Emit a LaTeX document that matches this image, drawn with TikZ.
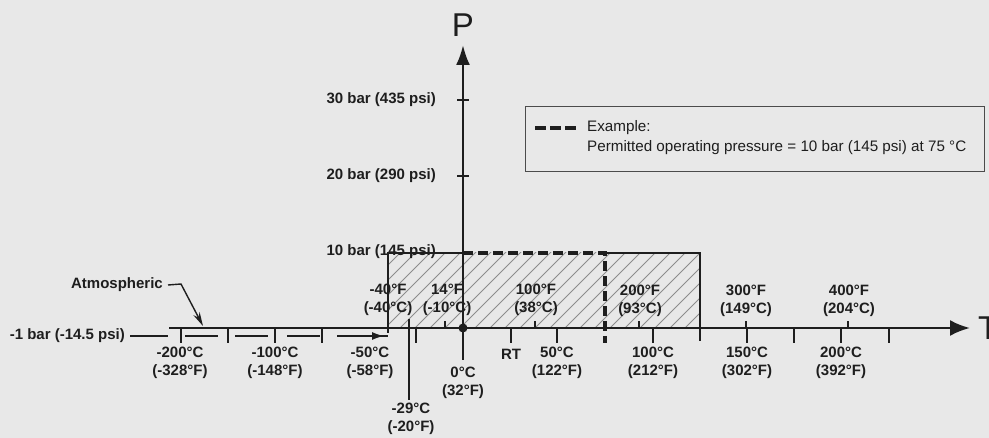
\documentclass[tikz,border=0pt]{standalone}
\usepackage{fontspec}
\setmainfont{Liberation Sans}
\usetikzlibrary{arrows.meta}
\definecolor{bg}{HTML}{E8E8E8}
\definecolor{ink}{HTML}{1E1E1E}
\definecolor{hatchc}{HTML}{8C8C8C}
\begin{document}
\begin{tikzpicture}[x=1pt,y=-1pt,
  lbl/.style={font=\fontsize{15}{18}\selectfont\bfseries, inner sep=0pt, align=center, text=ink},
  leg/.style={font=\fontsize{15.2}{17}\selectfont, inner sep=0pt, anchor=west, text=ink},
  axisline/.style={line width=2.6pt, draw=ink},
  tickmark/.style={line width=2pt, draw=ink},
  thinline/.style={line width=1.4pt, draw=ink},
  example/.style={line width=4pt, draw=ink, dash pattern=on 10pt off 5pt},
  hatchline/.style={line width=0.8pt, draw=hatchc}]
\fill[bg] (0,0) rectangle (989,438);
\useasboundingbox (0,0) rectangle (989,438);

% hatched range
\begin{scope}
\clip (388,253) rectangle (700,328);
\foreach \i in {0,15,...,420} \draw[hatchline] ({388+\i-90},340) -- ++(90,-90);
\end{scope}
\draw[thinline] (388,333) -- (388,253) -- (463,253);
\draw[thinline] (605,253) -- (700,253) -- (700,341);
\draw[example] (463,253) -- (605,253) -- (605,343);

% axes
\coordinate (Tstart) at (169,328);
\coordinate (Tend) at (970,328);
\coordinate (Pstart) at (463,360);
\coordinate (Pend) at (463,45);
\draw[axisline, -{Latex[length=20pt,width=16pt]}] (Tstart) -- (Tend);
\draw[axisline, -{Latex[length=20pt,width=14pt]}] (Pstart) -- (Pend);
\node[font=\fontsize{33}{33}\selectfont, text=ink, inner sep=0pt] (P) at (463,25) {P};
\node[font=\fontsize{33}{33}\selectfont, text=ink, inner sep=0pt, anchor=west] (T) at (978,328) {T};

% ticks
\foreach \x in {181,228,275,322,416,511,557,653,747,794,841,889}
  \draw[tickmark] (\x,328) -- (\x,343);
\foreach \x in {445,535,639,746,848}
  \draw[tickmark] (\x,328) -- (\x,321);
\foreach \y in {100,176}
  \draw[tickmark] (457,\y) -- (469,\y);
\draw[tickmark] (409,319) -- (409,400);
\fill[ink] (463,328) circle (4.5pt);

% pressure labels
\node[lbl, anchor=east] (p30) at (436,100) {30 bar (435 psi)};
\node[lbl, anchor=east] (p20) at (436,176) {20 bar (290 psi)};
\node[lbl, anchor=east] (p10) at (436,252) {10 bar (145 psi)};

% -1 bar line
\node[lbl, anchor=east] (pm1) at (125,336) {-1 bar (-14.5 psi)};
\coordinate (v0) at (130,336);
\coordinate (v1) at (168,336);
\draw[thinline] (v0) -- (v1);
\draw[thinline] (185,336) -- (218,336);
\draw[thinline] (235,336) -- (268,336);
\draw[thinline] (287,336) -- (320,336);
\draw[thinline, -{Latex[length=12pt,width=8pt]}] (337,336) -- (384,336);
\draw[thinline] (380,336) -- (388,336);

% atmospheric
\node[lbl, anchor=east] (atm) at (163,285) {Atmospheric};
\coordinate (a1) at (181,284);
\coordinate (a2) at (203,326);
\draw[thinline, -{Stealth[length=14pt,width=7pt]}] ([xshift=5pt]atm.east) -- (a1) -- (a2);

% temperature labels below axis
\node[lbl] (c200m) at (180,363) {-200°C\\(-328°F)};
\node[lbl] (c100m) at (275,363) {-100°C\\(-148°F)};
\node[lbl] (c50m) at (370,363) {-50°C\\(-58°F)};
\node[lbl] (c0) at (463,383) {0°C\\(32°F)};
\node[lbl] (rt) at (511,354) {RT};
\node[lbl] (c50) at (557,363) {50°C\\(122°F)};
\node[lbl] (c29m) at (411,419) {-29°C\\(-20°F)};
\node[lbl] (c100) at (653,363) {100°C\\(212°F)};
\node[lbl] (c150) at (747,363) {150°C\\(302°F)};
\node[lbl] (c200) at (841,363) {200°C\\(392°F)};

% fahrenheit labels above axis
\node[lbl] (f40m) at (388,300) {-40°F\\(-40°C)};
\node[lbl] (f14) at (447,300) {14°F\\(-10°C)};
\node[lbl] (f100) at (536,300) {100°F\\(38°C)};
\node[lbl] (f200) at (640,301) {200°F\\(93°C)};
\node[lbl] (f300) at (746,301) {300°F\\(149°C)};
\node[lbl] (f400) at (849,301) {400°F\\(204°C)};

% legend
\draw[line width=1pt, draw=ink!80] (525,107) rectangle (984,172);
\draw[line width=4pt, draw=ink, dash pattern=on 11pt off 4pt] (535,128) -- (578,128);
\node[leg] (ex) at (587,128) {Example:};
\node[leg] (perm) at (587,148) {Permitted operating pressure = 10 bar (145 psi) at 75 °C};
\end{tikzpicture}
\end{document}
